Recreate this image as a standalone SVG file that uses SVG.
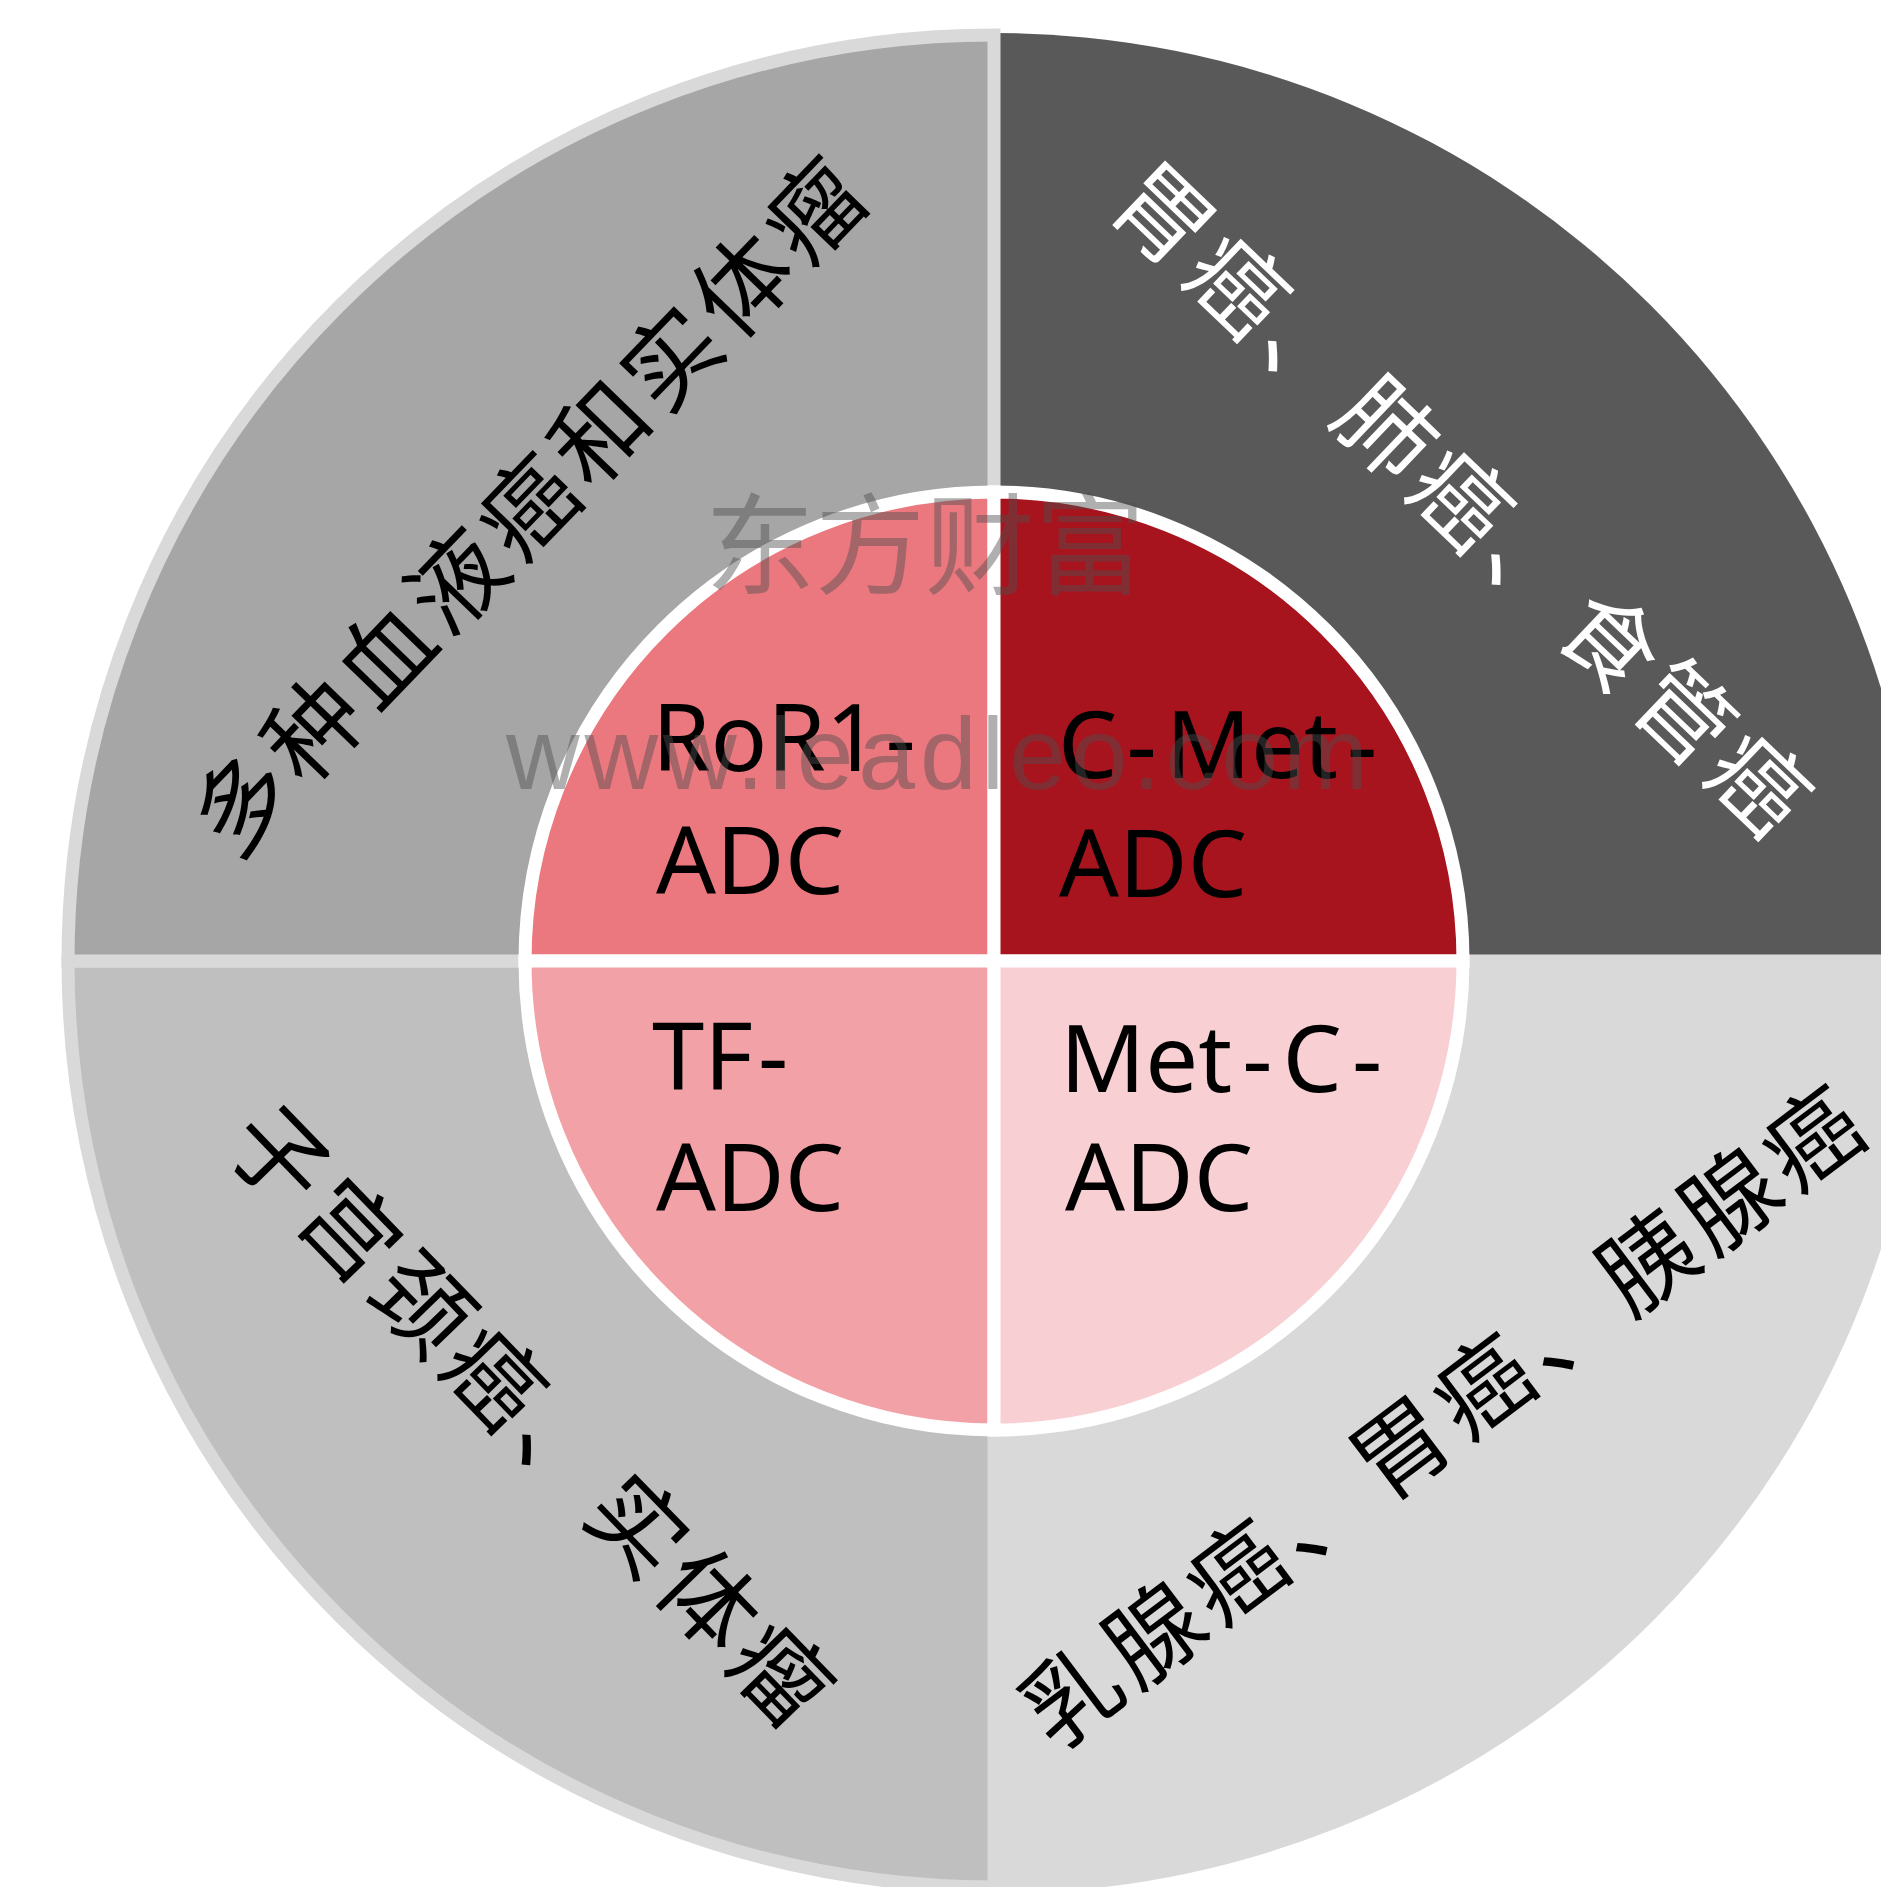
<svg xmlns="http://www.w3.org/2000/svg" width="1881" height="1887" viewBox="0 0 1881 1887">
<style>
.ring{stroke:#d9d9d9;stroke-width:13;stroke-linejoin:miter}
.core{stroke:#ffffff;stroke-width:13}
.outer{font-family:"Noto Sans CJK SC","Noto Sans",sans-serif;font-size:96px;letter-spacing:7px;text-anchor:middle;dominant-baseline:central}
.inner{font-family:"Noto Sans","Liberation Sans",sans-serif;font-size:94px;fill:#000000}
.wm{fill:#4d4d4d;fill-opacity:0.45}
</style>
<rect x="0" y="0" width="1881" height="1887" fill="#ffffff"/>
<g id="outer-top-right">
<path d="M994,961 L994,33 A928,928 0 0 1 1922,961 Z" fill="#595959"/>
<text class="outer" fill="#ffffff" transform="translate(1468,497) rotate(43.7)">胃癌、肺癌、食管癌</text>
</g>
<g id="outer-bottom-right">
<path class="ring" d="M994,961 L1920,961 A926,926 0 0 1 994,1887 Z" fill="#d9d9d9"/>
</g>
<g id="outer-bottom-left">
<path class="ring" d="M994,961 L994,1887 A926,926 0 0 1 68,961 Z" fill="#bfbfbf"/>
</g>
<g id="outer-top-left">
<path class="ring" d="M994,961 L68,961 A926,926 0 0 1 994,35 Z" fill="#a6a6a6"/>
</g>
<g id="outer-labels">
<text class="outer" fill="#000000" transform="translate(526,500) rotate(-46)">多种血液癌和实体瘤</text>
<text class="outer" fill="#000000" transform="translate(537,1413) rotate(45.9)">子宫颈癌、实体瘤</text>
<text class="outer" fill="#000000" transform="translate(1441,1410) rotate(-37)">乳腺癌、胃癌、胰腺癌</text>
</g>
<g id="inner-ror1">
<path class="core" d="M994,961 L525,961 A469,469 0 0 1 994,492 Z" fill="#ea787e"/>
<text class="inner" x="652" y="771">RoR1<tspan dx="6">-</tspan></text>
<text class="inner" x="656" y="894">ADC</text>
</g>
<g id="inner-cmet">
<path class="core" d="M994,961 L994,492 A469,469 0 0 1 1463,961 Z" fill="#a8141e"/>
<text class="inner" x="1058" y="778">C<tspan dx="9">-</tspan><tspan dx="9">Met</tspan><tspan dx="9">-</tspan></text>
<text class="inner" x="1059" y="897">ADC</text>
</g>
<g id="inner-tf">
<path class="core" d="M994,961 L994,1430 A469,469 0 0 1 525,961 Z" fill="#f2a2a6"/>
<text class="inner" x="652" y="1089">TF<tspan dx="5">-</tspan></text>
<text class="inner" x="656" y="1211">ADC</text>
</g>
<g id="inner-metc">
<path class="core" d="M994,961 L1463,961 A469,469 0 0 1 994,1430 Z" fill="#f8d0d3"/>
<text class="inner" x="1060" y="1092">Met<tspan dx="10">-</tspan><tspan dx="10">C</tspan><tspan dx="10">-</tspan></text>
<text class="inner" x="1065" y="1211">ADC</text>
</g>
<g id="watermarks">
<text class="wm" x="925" y="538" font-family="Noto Sans CJK SC, sans-serif" font-size="110" text-anchor="middle" dominant-baseline="central">东方财富</text>
<text class="wm" x="506" y="789" font-family="Liberation Sans, Arial, sans-serif" font-size="102" textLength="862" lengthAdjust="spacing">www.leadleo.com</text>
</g>
</svg>
